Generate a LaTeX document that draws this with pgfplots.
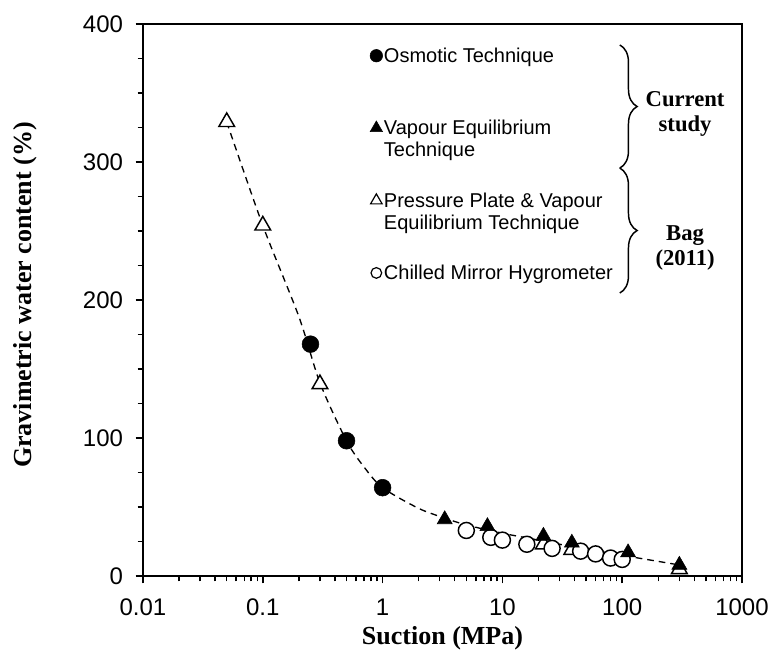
\documentclass[border=0pt]{standalone}
\usepackage{pgfplots}
\pgfplotsset{compat=1.18}
\usepackage{fontspec}
\setmainfont{Liberation Sans}
\newfontfamily\timesfont{Liberation Serif}
\usetikzlibrary{decorations.pathreplacing}
\pgfplotstableread{
x y
0.05 329
0.1 254
0.3 139
22 23
38 19
300 5
}\pressure
\pgfplotstableread{
x y
5 33
8 28
10 26
16 23
26 20
45 18
60 16
80 13
100 12
}\chilled
\pgfplotstableread{
x y
0.25 168
0.5 98
1 64
}\osmotic
\pgfplotstableread{
x y
3.3 41
7.5 36
22 29
38 24
112 17
300 8
}\vapour
\pgfplotstableread{
x y
0.05 329
0.1 254
0.2 188
0.3 140
0.5 98
0.7 79
1 64
2 49
3.3 42
5 37
10 31
20 26
40 21
100 15
300 8
}\curve
\newcommand{\entry}[1]{\begin{tabular}[t]{@{}l@{}}#1\end{tabular}}
\begin{document}
\begin{tikzpicture}
\useasboundingbox (-107.25pt,-60pt) rectangle (471.75pt,432pt);
\begin{axis}[
  at={(0,0)}, anchor=south west,
  width=449.25pt, height=414pt, scale only axis,
  xmode=log, xmin=0.01, xmax=1000, ymin=0, ymax=400,
  xtick={0.01,0.1,1,10,100,1000},
  xticklabels={0.01,0.1,1,10,100,1000},
  ytick={0,100,200,300,400}, minor y tick num=3,
  tick align=outside, xtick pos=bottom, ytick pos=left,
  major tick length=5.5pt, minor tick length=4pt,
  axis line style={line width=1.2pt},
  every tick/.style={black, line width=1.1pt},
  tick label style={font=\fontsize{18}{20}\selectfont},
  x tick label style={yshift=-8pt},
  y tick label style={xshift=-6pt},
  /pgf/number format/assume math mode=true,
  xlabel={\timesfont\bfseries Suction (MPa)},
  ylabel={\timesfont\bfseries Gravimetric water content (\%)},
  label style={font=\fontsize{19.5}{21}\selectfont},
  x label style={at={(axis description cs:0.5,-0.1125)}, anchor=center},
  y label style={at={(axis description cs:-0.197,0.509)}, anchor=center},
  legend style={draw=none, fill=none, at={(rel axis cs:0.372,0.966)}, anchor=north west,
    font=\fontsize{15}{16.5}\selectfont, nodes={inner sep=1pt}, row sep=39.25pt,
    /tikz/every even column/.append style={column sep=4pt}},
  legend cell align=left,
  legend image code/.code={\draw[#1] plot coordinates {(5pt,0pt)};},
]
\addplot[black, line width=1pt, dash pattern=on 5pt off 3.75pt, smooth, forget plot] table[x=x,y=y] {\curve};
\addplot[only marks, mark=triangle*, mark size=6.8pt, mark options={fill=white, draw=black, line width=1.1pt, solid}, forget plot] table[x=x,y=y] {\pressure};
\addplot[only marks, mark=*, mark size=6pt, mark options={fill=white, draw=black, line width=1.1pt, solid}, forget plot] table[x=x,y=y] {\chilled};
\addplot[only marks, mark=*, mark size=6.3pt, mark options={fill=black, draw=black}, forget plot] table[x=x,y=y] {\osmotic};
\addplot[only marks, mark=triangle*, mark size=6.5pt, mark options={fill=black, draw=black}, forget plot] table[x=x,y=y] {\vapour};
\addlegendimage{only marks, mark=*, mark size=4.7pt, mark options={fill=black}}
\addlegendentry{\entry{Osmotic Technique}}
\addlegendimage{only marks, mark=triangle*, mark size=5.4pt, mark options={fill=black}}
\addlegendentry{\entry{Vapour Equilibrium\\Technique}}
\addlegendimage{only marks, mark=triangle, mark size=5pt, mark options={line width=0.9pt}}
\addlegendentry{\entry{Pressure Plate \& Vapour\\Equilibrium Technique}}
\addlegendimage{only marks, mark=o, mark size=4pt, mark options={line width=0.9pt}}
\addlegendentry{\entry{Chilled Mirror Hygrometer}}
\draw[decorate, decoration={brace, amplitude=13pt}, line width=1.1pt] (rel axis cs:0.796,0.962) -- (rel axis cs:0.796,0.739);
\draw[decorate, decoration={brace, amplitude=13pt}, line width=1.1pt] (rel axis cs:0.796,0.739) -- (rel axis cs:0.796,0.5127);
\node[align=center, font=\fontsize{17}{18.75}\selectfont\timesfont\bfseries] at (rel axis cs:0.905,0.837) {Current\\study};
\node[align=center, font=\fontsize{17}{18.75}\selectfont\timesfont\bfseries] at (rel axis cs:0.905,0.594) {Bag\\(2011)};
\end{axis}
\end{tikzpicture}
\end{document}
